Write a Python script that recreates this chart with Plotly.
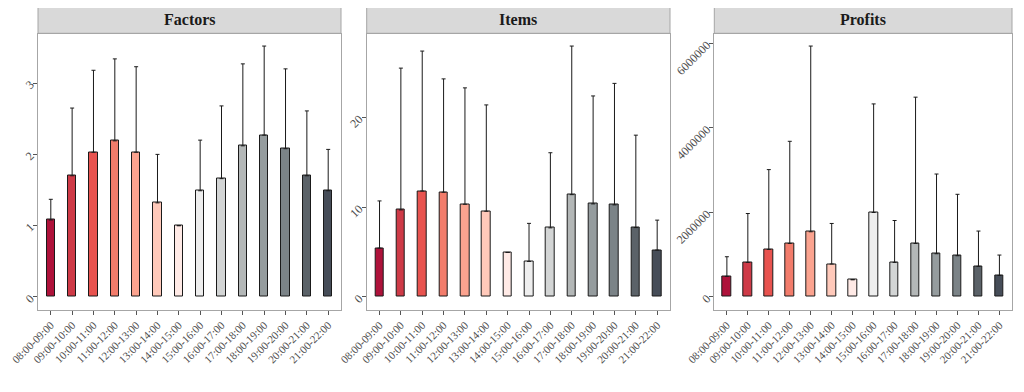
import plotly.graph_objects as go

hours = ["08:00-09:00", "09:00-10:00", "10:00-11:00", "11:00-12:00", "12:00-13:00",
         "13:00-14:00", "14:00-15:00", "15:00-16:00", "16:00-17:00", "17:00-18:00",
         "18:00-19:00", "19:00-20:00", "20:00-21:00", "21:00-22:00"]

colors = ["#AE123A", "#CE3A47", "#E8534F", "#F27C6B", "#FBA38F", "#FFC9BA", "#FFEAE6",
          "#EEEEEE", "#D3D5D5", "#B3B7B7", "#959C9E", "#7B8387", "#5B6268", "#464D58"]

factors_mean = [1.08, 1.70, 2.03, 2.19, 2.03, 1.32, 1.00, 1.49, 1.66, 2.12, 2.27, 2.08, 1.70, 1.49]
factors_upper = [1.37, 2.65, 3.18, 3.34, 3.23, 2.00, None, 2.20, 2.68, 3.27, 3.52, 3.20, 2.61, 2.07]

items_mean = [5.44, 9.70, 11.80, 11.67, 10.33, 9.55, 4.96, 3.96, 7.70, 11.40, 10.37, 10.26, 7.73, 5.22]
items_upper = [10.7, 25.5, 27.4, 24.3, 23.3, 21.4, None, 8.2, 16.07, 27.96, 22.4, 23.8, 18.03, 8.56]

profits_mean = [487000, 818000, 1125000, 1267000, 1543000, 780000, 409000, 2000000,
                818000, 1267000, 1023000, 976000, 724000, 510000]
profits_upper = [952000, 1975000, 3015000, 3685000, 5940000, 1740000, None, 4570000,
                 1810000, 4730000, 2910000, 2430000, 1560000, 992000]

panels = [("Factors", factors_mean, factors_upper, [0, 1, 2, 3]),
          ("Items", items_mean, items_upper, [0, 10, 20]),
          ("Profits", profits_mean, profits_upper, [0, 2000000, 4000000, 6000000])]

# page body has an 8px margin; figure is sized to fit the 1024x392 window
OFF = 8
W, H = 1024 - 2 * OFF, 392 - 2 * OFF


def px_x(v):
    return (v - OFF) / W


def px_y(v):
    return 1 - (v - OFF) / H


x_px = [(38, 341), (366.7, 670), (714.3, 1012)]
x_domains = [(px_x(a), px_x(b)) for a, b in x_px]
y_domain = (px_y(309.5), px_y(33.5))
strip_y = (px_y(33.3), px_y(6.7))

fig = go.Figure()
layout = {}
shapes = []
annotations = []
serif = "Liberation Serif"
border = "#A6A6A6"

for i, (name, mean, upper, ticks) in enumerate(panels):
    k = "" if i == 0 else str(i + 1)
    err = [None if u is None else u - m for m, u in zip(mean, upper)]
    fig.add_trace(go.Bar(
        x=list(range(len(hours))), y=mean, width=0.4,
        marker=dict(color=colors, line=dict(color="#1a1a1a", width=1)),
        error_y=dict(type="data", array=err, arrayminus=[0] * len(mean), symmetric=False,
                     color="#1a1a1a", thickness=1, width=2),
        xaxis="x" + k, yaxis="y" + k, showlegend=False,
    ))
    vmax = max(u if u is not None else m for m, u in zip(mean, upper))
    pad = vmax * 0.05
    layout["xaxis" + k] = dict(
        domain=list(x_domains[i]), anchor="y" + k, range=[-0.6, 13.6],
        tickmode="array", tickvals=list(range(len(hours))), ticktext=hours,
        tickangle=-45, ticks="outside", ticklen=4, tickcolor="#555555",
        tickfont=dict(family=serif, size=11, color="#4D4D4D"),
        showline=True, linecolor=border, linewidth=1, mirror=True,
        showgrid=False, zeroline=False, automargin=False, ticklabeloverflow="allow",
    )
    layout["yaxis" + k] = dict(
        domain=list(y_domain), anchor="x" + k, range=[-pad, vmax + pad],
        tickmode="array", tickvals=ticks, ticktext=[str(t) for t in ticks],
        tickangle=-45, ticks="outside", ticklen=4, tickcolor="#555555",
        tickfont=dict(family=serif, size=12, color="#4D4D4D"),
        showline=True, linecolor=border, linewidth=1, mirror=True,
        showgrid=False, zeroline=False, automargin=False, ticklabeloverflow="allow",
    )
    shapes.append(dict(type="rect", xref="paper", yref="paper",
                       x0=x_domains[i][0], x1=x_domains[i][1], y0=strip_y[0], y1=strip_y[1],
                       fillcolor="#D9D9D9", line=dict(color=border, width=1), layer="below"))
    annotations.append(dict(xref="paper", yref="paper",
                            x=(x_domains[i][0] + x_domains[i][1]) / 2,
                            y=(strip_y[0] + strip_y[1]) / 2,
                            text="<b>" + name + "</b>", showarrow=False,
                            font=dict(family=serif, size=16, color="#1A1A1A"),
                            xanchor="center", yanchor="middle"))

fig.update_layout(
    width=W, height=H, margin=dict(l=0, r=0, t=0, b=0),
    paper_bgcolor="white", plot_bgcolor="white",
    shapes=shapes, annotations=annotations, bargap=0,
    **layout,
)

fig.write_html("out.html")
